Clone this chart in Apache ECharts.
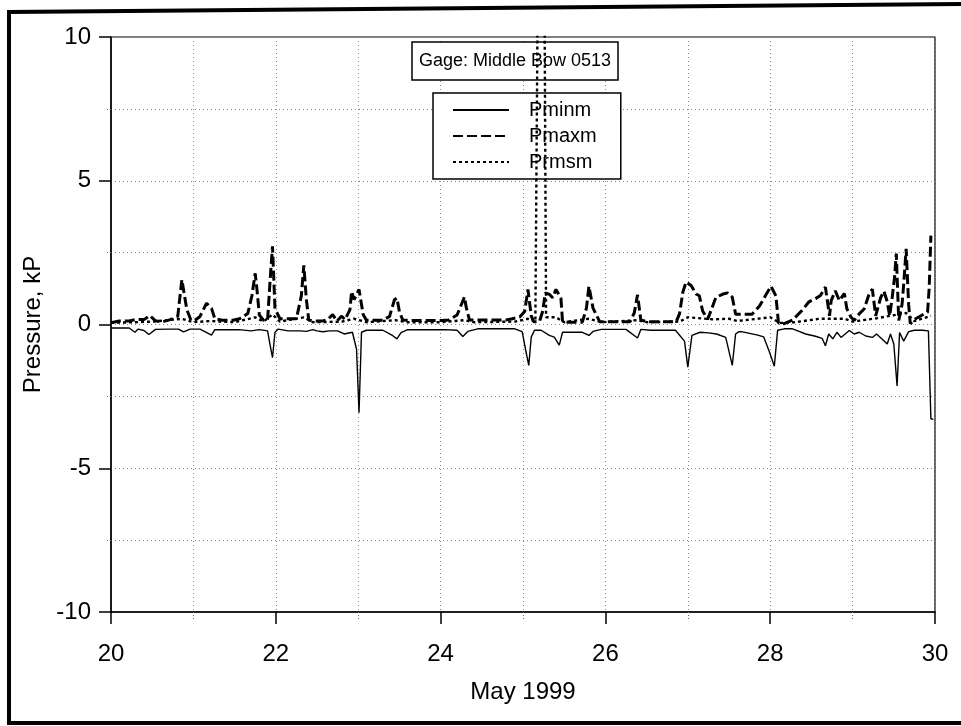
<!DOCTYPE html>
<html>
<head>
<meta charset="utf-8">
<script src="https://cdn.jsdelivr.net/npm/echarts@6/dist/echarts.min.js"></script>
<style>html,body{margin:0;padding:0;background:#fff}#c{width:961px;height:726px}</style>
</head>
<body>
<div id="c"></div>
<script>
// ---- data (day of May 1999, pressure kP) ----
const pminDays = [20.00,20.10,20.22,20.29,20.33,20.40,20.46,20.54,20.70,20.82,20.88,20.96,21.08,21.22,21.26,21.40,21.55,21.70,21.80,21.90,21.93,21.96,21.99,22.03,22.15,22.30,22.37,22.45,
  22.50,22.57,22.65,22.75,22.83,22.93,22.98,23.01,23.04,23.10,23.20,23.30,23.42,23.47,23.52,23.60,23.75,23.90,24.05,24.20,24.27,24.33,24.45,24.60,24.75,24.90,24.99,25.04,25.07,
  25.10,25.14,25.22,25.32,25.38,25.44,25.48,25.55,25.65,25.72,25.80,25.85,25.95,26.10,26.25,26.39,26.43,26.55,26.70,26.85,26.96,27.00,27.05,27.15,27.25,27.35,27.46,27.54,27.58,27.62,
  27.65,27.75,27.85,27.92,27.99,28.05,28.09,28.17,28.27,28.35,28.43,28.55,28.63,28.67,28.71,28.76,28.81,28.86,28.96,29.02,29.08,29.16,29.24,29.29,29.36,29.42,29.46,29.50,29.54,29.57,29.62,29.68,29.75,29.85,29.92,29.95,29.98];
const pminVals = [-0.12,-0.12,-0.12,-0.27,-0.16,-0.21,-0.35,-0.17,-0.16,-0.16,-0.26,-0.16,-0.16,-0.37,-0.18,-0.18,-0.18,-0.22,-0.18,-0.22,-0.70,-1.15,-0.27,-0.16,-0.22,-0.22,-0.24,-0.18,
  -0.22,-0.25,-0.22,-0.22,-0.33,-0.27,-0.86,-3.07,-0.27,-0.20,-0.20,-0.20,-0.39,-0.50,-0.28,-0.18,-0.18,-0.18,-0.18,-0.20,-0.42,-0.24,-0.15,-0.15,-0.15,-0.15,-0.25,-1.00,-1.42,
  -0.44,-0.20,-0.20,-0.38,-0.44,-0.72,-0.27,-0.27,-0.27,-0.27,-0.38,-0.24,-0.17,-0.17,-0.17,-0.47,-0.17,-0.20,-0.20,-0.20,-0.58,-1.48,-0.38,-0.27,-0.29,-0.33,-0.45,-1.42,-0.33,-0.25,
  -0.25,-0.31,-0.37,-0.43,-0.95,-1.45,-0.20,-0.15,-0.15,-0.24,-0.33,-0.41,-0.48,-0.74,-0.33,-0.50,-0.27,-0.45,-0.21,-0.33,-0.27,-0.40,-0.45,-0.33,-0.51,-0.68,-0.33,-0.68,-2.14,-0.28,-0.58,-0.25,-0.20,-0.20,-0.22,-3.28,-3.30];

const pmaxDays = [20.00,20.10,20.22,20.30,20.40,20.47,20.54,20.62,20.72,20.81,20.86,20.89,20.92,20.97,21.02,21.08,21.16,21.22,21.26,21.35,21.48,21.56,21.66,21.71,21.75,21.77,21.80,21.85,21.90,21.93,21.96,21.99,
  22.05,22.15,22.25,22.31,22.34,22.37,22.40,22.50,22.57,22.63,22.69,22.74,22.80,22.84,22.90,22.92,22.95,23.01,23.06,23.10,23.20,23.30,23.38,23.44,23.47,23.50,23.54,23.62,23.75,23.90,
  24.02,24.10,24.20,24.29,24.31,24.35,24.50,24.65,24.80,24.87,24.96,25.02,25.06,25.10,25.13,25.20,25.24,25.27,25.32,25.36,25.40,25.46,25.48,25.55,25.65,25.72,25.77,25.80,25.85,25.93,
  26.05,26.20,26.30,26.35,26.39,26.43,26.50,26.65,26.80,26.86,26.90,26.94,26.98,27.04,27.10,27.14,27.18,27.24,27.28,27.34,27.42,27.48,27.54,27.58,27.65,27.72,27.78,27.87,27.95,
  28.01,28.07,28.10,28.17,28.27,28.39,28.47,28.55,28.61,28.67,28.72,28.74,28.79,28.84,28.90,28.93,28.98,29.02,29.08,29.14,29.20,29.24,29.28,29.34,29.38,29.42,29.45,29.48,29.51,29.53,
  29.56,29.60,29.62,29.65,29.68,29.70,29.76,29.87,29.91,29.93,29.95];
const pmaxVals = [0.06,0.12,0.12,0.17,0.17,0.31,0.13,0.09,0.17,0.28,1.56,1.04,0.52,0.15,0.15,0.28,0.74,0.56,0.20,0.15,0.15,0.20,0.38,1.00,1.78,1.26,0.33,0.15,0.15,1.50,2.72,0.55,
  0.20,0.20,0.20,1.00,2.06,0.90,0.15,0.12,0.12,0.17,0.35,0.12,0.29,0.17,0.52,1.15,0.87,1.22,0.35,0.15,0.15,0.15,0.28,0.86,0.92,0.45,0.16,0.14,0.14,0.14,
  0.14,0.16,0.33,0.96,0.61,0.16,0.16,0.16,0.16,0.20,0.26,0.45,1.22,0.30,0.10,0.10,0.47,1.10,1.05,0.93,1.22,0.92,0.10,0.08,0.08,0.08,0.57,1.33,0.57,0.10,
  0.10,0.10,0.10,0.40,1.03,0.16,0.10,0.10,0.10,0.10,0.38,1.13,1.48,1.36,1.06,1.00,0.47,0.18,0.47,0.94,1.05,1.10,0.95,0.36,0.36,0.36,0.36,0.64,1.04,
  1.33,0.99,0.05,0.03,0.15,0.50,0.79,0.90,1.01,1.30,0.30,0.83,1.17,0.83,1.08,0.55,0.26,0.14,0.37,0.54,1.06,1.23,0.30,0.93,1.16,0.80,0.30,0.93,1.66,2.47,
  0.14,0.70,1.40,2.63,0.70,0.03,0.19,0.37,0.43,1.30,3.09];

const prmsDays = [20.00,20.30,20.50,20.86,21.00,21.20,21.50,21.75,21.85,21.96,22.05,22.34,22.45,22.80,22.95,23.10,23.45,23.60,24.00,24.29,24.40,24.90,25.06,25.15,25.18,25.26,25.28,25.40,25.50,
  25.80,25.95,26.39,26.50,26.90,27.00,27.30,27.50,27.60,28.00,28.12,28.30,28.60,28.90,29.00,29.30,29.55,29.65,29.75,29.95];
const prmsVals = [0.06,0.08,0.10,0.20,0.08,0.12,0.08,0.25,0.10,0.35,0.10,0.25,0.08,0.10,0.20,0.08,0.15,0.08,0.08,0.15,0.08,0.10,0.20,0.10,12,12,0.25,0.25,0.08,
  0.20,0.08,0.15,0.08,0.10,0.25,0.18,0.20,0.12,0.25,0.05,0.08,0.20,0.20,0.10,0.22,0.35,0.40,0.12,0.30];

const xTicks = [20,22,24,26,28,30];
const yTicks = [-10,-5,0,5,10];
const titleText = 'Gage: Middle Bow 0513';
const seriesNames = ['Pminm','Pmaxm','Prmsm'];

const zip = (a,b) => a.map((d,i) => [d,b[i]]);
const FONT = '"Liberation Sans", Arial, Helvetica, sans-serif';
const grid = {color:'#888', type:[1,3], width:1};

const chart = echarts.init(document.getElementById('c'), null, {renderer:'canvas'});
chart.setOption({
  animation:false,
  backgroundColor:'#fff',
  textStyle:{fontFamily:FONT, color:'#000'},
  grid:{left:111, right:26, top:37, bottom:114, show:true, borderColor:'#000', borderWidth:1.2},
  title:{text:titleText, left:412, top:42, z:1, padding:[10,7,10,7], borderColor:'#000', borderWidth:1.5, backgroundColor:'#fff',
    textStyle:{fontFamily:FONT, fontSize:18, fontWeight:'normal', color:'#000'}},
  legend:{data:seriesNames, orient:'vertical', left:433, top:93, z:1, padding:[7,24,7,19], borderColor:'#000', borderWidth:1.5,
    backgroundColor:'#fff', itemWidth:56, itemHeight:14, itemGap:6, itemStyle:{opacity:0},
    textStyle:{fontFamily:FONT, fontSize:20, lineHeight:20, color:'#000', padding:[0,0,0,15]}},
  xAxis:{type:'value', min:20, max:30, interval:2,
    name:'May 1999', nameLocation:'middle', nameGap:68, nameTextStyle:{fontSize:24, color:'#000', fontFamily:FONT},
    axisLine:{onZero:false, lineStyle:{color:'#000', width:1.5}},
    axisTick:{show:true, inside:false, length:12, lineStyle:{color:'#000', width:1.5}},
    minorTick:{show:true, splitNumber:2, length:8, lineStyle:{color:'#666', type:[1,2]}},
    axisLabel:{fontSize:24, color:'#000', margin:30, fontFamily:FONT,
      formatter:v => xTicks.includes(v) ? String(v) : ''},
    splitLine:{show:true, lineStyle:grid},
    minorSplitLine:{show:true, lineStyle:grid}},
  yAxis:{type:'value', min:-10, max:10, interval:5,
    name:'Pressure, kP', nameLocation:'middle', nameGap:66, nameTextStyle:{fontSize:24, color:'#000', fontFamily:FONT},
    axisLine:{show:true, onZero:false, lineStyle:{color:'#000', width:1.5}},
    axisTick:{show:true, inside:false, length:12, lineStyle:{color:'#000', width:1.5}},
    minorTick:{show:true, splitNumber:2, length:6, lineStyle:{color:'#666', type:[1,2]}},
    axisLabel:{fontSize:24, color:'#000', margin:20, fontFamily:FONT,
      formatter:v => yTicks.includes(v) ? String(v) : ''},
    splitLine:{show:true, lineStyle:grid},
    minorSplitLine:{show:true, lineStyle:grid}},
  graphic:[{type:'polyline', silent:true, z:100,
    shape:{points:[[968,4],[9,12],[9,723],[968,723]]},
    style:{stroke:'#000', lineWidth:4, fill:null}}],
  series:[
    {name:'Pminm', type:'line', data:zip(pminDays,pminVals), symbol:'none', showSymbol:false, z:3,
      lineStyle:{color:'#000', width:1.4, type:'solid'}, itemStyle:{color:'#000'}},
    {name:'Pmaxm', type:'line', data:zip(pmaxDays,pmaxVals), symbol:'none', showSymbol:false, z:3,
      lineStyle:{color:'#000', width:3, type:[10,4]}, itemStyle:{color:'#000'}},
    {name:'Prmsm', type:'line', data:zip(prmsDays,prmsVals), symbol:'none', showSymbol:false, z:5, clip:true,
      lineStyle:{color:'#000', width:2.4, type:[3,3]}, itemStyle:{color:'#000'}}
  ]
});
</script>
</body>
</html>
